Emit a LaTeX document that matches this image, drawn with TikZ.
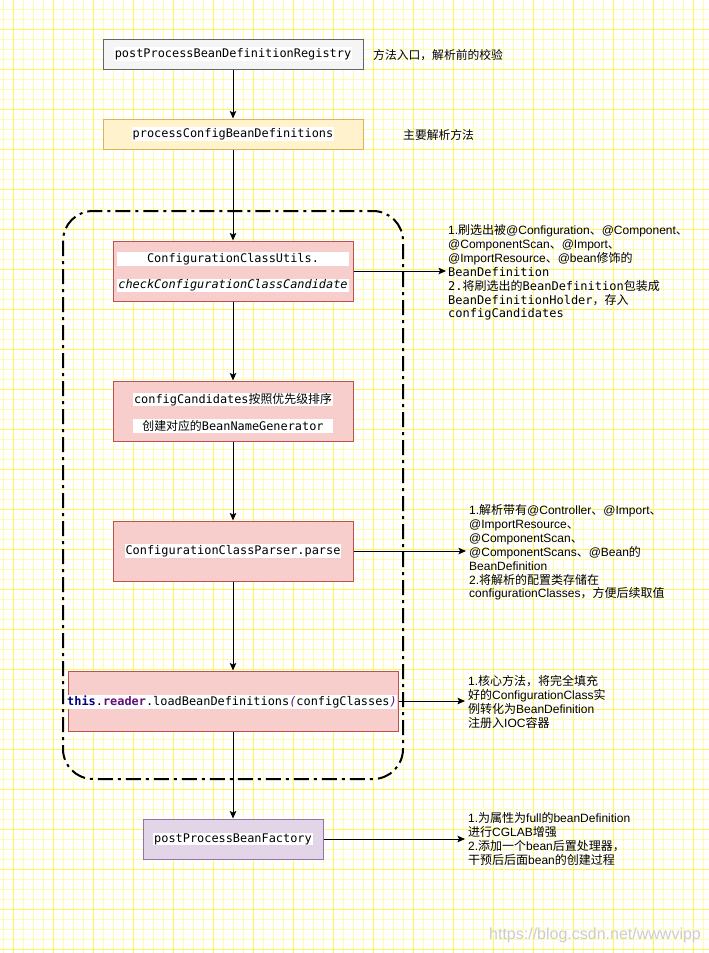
\documentclass[tikz,border=0pt]{standalone}
\usepackage{fontspec}
\setmainfont{Liberation Sans}
\setmonofont{DejaVu Sans Mono}
\newfontfamily\zhfont{Noto Sans CJK SC}
\newcommand\zhc[1]{{\zhfont #1}}
\usetikzlibrary{arrows.meta}
\definecolor{gridminor}{RGB}{255,252,175}
\definecolor{gridmajor}{RGB}{255,248,90}
\definecolor{grayfill}{HTML}{F5F5F5}
\definecolor{graydraw}{HTML}{666666}
\definecolor{yelfill}{HTML}{FFF2CC}
\definecolor{yeldraw}{HTML}{D6B656}
\definecolor{redfill}{HTML}{F8CECC}
\definecolor{reddraw}{HTML}{B85450}
\definecolor{purfill}{HTML}{E1D5E7}
\definecolor{purdraw}{HTML}{9673A6}
\definecolor{kwnavy}{HTML}{000080}
\definecolor{kwpurple}{HTML}{660E7A}
\tikzset{
  boxbase/.style={draw, line width=1pt, inner sep=0pt},
  graybox/.style={boxbase, fill=grayfill, draw=graydraw},
  yelbox/.style={boxbase, fill=yelfill, draw=yeldraw},
  redbox/.style={boxbase, fill=redfill, draw=reddraw},
  purbox/.style={boxbase, fill=purfill, draw=purdraw},
  hl/.style={fill=white, inner sep=0.8pt, font=\fontsize{11.9}{14}\selectfont\ttfamily},
  band/.style={fill=white, inner sep=0pt, minimum height=13.5pt, font=\fontsize{11.9}{14}\selectfont\ttfamily},
  note/.style={anchor=base west, align=left, inner sep=0pt, font=\fontsize{12}{13.9}\selectfont},
  arr/.style={line width=1pt, -{Stealth[length=7.5pt,width=6.5pt,inset=1.5pt]}},
  container/.style={draw, line width=2pt, rounded corners=30pt, dash pattern=on 15pt off 5pt on 3pt off 5pt},
}
\begin{document}
\begin{tikzpicture}[x=1pt,y=-1pt]
\useasboundingbox (0,0) rectangle (709,953);
\fill[white] (0,0) rectangle (709,953);
% grid (half-pixel offsets so each line fills one pixel)
\foreach \x in {3.5,13.5,...,703.5} \draw[gridminor, line width=1pt] (\x,0) -- (\x,953);
\foreach \y in {9.5,19.5,...,949.5} \draw[gridminor, line width=1pt] (0,\y) -- (709,\y);
\foreach \x in {13.5,53.5,...,693.5} \draw[gridmajor, line width=1pt] (\x,0) -- (\x,953);
\foreach \y in {29.5,69.5,...,949.5} \draw[gridmajor, line width=1pt] (0,\y) -- (709,\y);

% container
\draw[container] (63,211) rectangle (403,779);

% boxes
\node[graybox, minimum width=260pt, minimum height=30pt] (b1) at (233,54) {};
\node[hl] (t1) at (b1) {postProcessBeanDefinitionRegistry};
\node[yelbox, minimum width=260pt, minimum height=30pt] (b2) at (233,134) {};
\node[hl] (t2) at (b2) {processConfigBeanDefinitions};
\node[redbox, minimum width=240pt, minimum height=60pt] (b3) at (233,271) {};
\node[band, minimum width=232pt] (t3a) at (233,259) {ConfigurationClassUtils.};
\node[band, minimum width=232pt] (t3b) at (233,285.5) {\itshape checkConfigurationClassCandidate};
\node[redbox, minimum width=240pt, minimum height=60pt] (b4) at (233,411) {};
\node[band, minimum width=200pt] (t4a) at (233,399.5) {configCandidates\zhc{按照优先级排序}};
\node[band, minimum width=200pt] (t4b) at (233,426) {\zhc{创建对应的}BeanNameGenerator};
\node[redbox, minimum width=240pt, minimum height=60pt] (b5) at (233,551) {};
\node[hl] (t5) at (b5) {ConfigurationClassParser.parse};
\node[redbox, minimum width=330pt, minimum height=60pt] (b6) at (233,701) {};
\node[band, minimum width=330pt] (t6) at (232,702) {{\color{kwnavy}\bfseries this}.{\color{kwpurple}\bfseries reader}.loadBeanDefinitions{\color{kwpurple}\itshape(}configClasses{\color{kwpurple}\itshape)}};
\node[purbox, minimum width=180pt, minimum height=40pt] (b7) at (233,839) {};
\node[hl] (t7) at (b7) {postProcessBeanFactory};

% side labels
\node[anchor=west, inner sep=0pt, font=\fontsize{11.8}{14}\selectfont\zhfont] (l1) at (373,55) {方法入口，解析前的校验};
\node[anchor=west, inner sep=0pt, font=\fontsize{11.8}{14}\selectfont\zhfont] (l2) at (403,135) {主要解析方法};

% annotations (base anchor = baseline of last line)
\node[note] (a1) at (448,317.9) {1.\zhc{刷选出被}@Configuration\zhc{、}@Component\zhc{、}\\
@ComponentScan\zhc{、}@Import\zhc{、}\\
@ImportResource\zhc{、}@bean\zhc{修饰的}\\
{\ttfamily BeanDefinition}\\
{\ttfamily 2.\zhc{将刷选出的}BeanDefinition\zhc{包装成}}\\
{\ttfamily BeanDefinitionHolder\zhc{，存入}}\\
{\ttfamily configCandidates}};
\node[note] (a2) at (469,597.9) {1.\zhc{解析带有}@Controller\zhc{、}@Import\zhc{、}\\
@ImportResource\zhc{、}\\
@ComponentScan\zhc{、}\\
@ComponentScans\zhc{、}@Bean\zhc{的}\\
BeanDefinition\\
2.\zhc{将解析的配置类存储在}\\
configurationClasses\zhc{，方便后续取值}};
\node[note] (a3) at (468,727.5) {1.\zhc{核心方法，将完全填充}\\
\zhc{好的}ConfigurationClass\zhc{实}\\
\zhc{例转化为}BeanDefinition\\
\zhc{注册入}IOC\zhc{容器}};
\node[note] (a4) at (468,864.5) {1.\zhc{为属性为}full\zhc{的}beanDefinition\\
\zhc{进行}CGLAB\zhc{增强}\\
2.\zhc{添加一个}bean\zhc{后置处理器，}\\
\zhc{干预后后面}bean\zhc{的创建过程}};

% watermark
\node[anchor=west, inner sep=0pt, text=black!20, font=\fontsize{16}{18}\selectfont] (wm) at (489,935) {https://blog.csdn.net/wwwvipp};

% connectors
\draw[arr] (b1) -- (b2);
\draw[arr] (b2) -- (b3);
\draw[arr] (b3) -- (b4);
\draw[arr] (b4) -- (b5);
\draw[arr] (b5) -- (b6);
\draw[arr] (b6) -- (b7);
\coordinate (e1) at (446,271);
\coordinate (e2) at (466,551);
\coordinate (e3) at (465,701);
\coordinate (e4) at (465,839);
\draw[arr] (b3.east) -- (e1);
\draw[arr] (b5.east) -- (e2);
\draw[arr] (b6.east) -- (e3);
\draw[arr] (b7.east) -- (e4);
\end{tikzpicture}
\end{document}
